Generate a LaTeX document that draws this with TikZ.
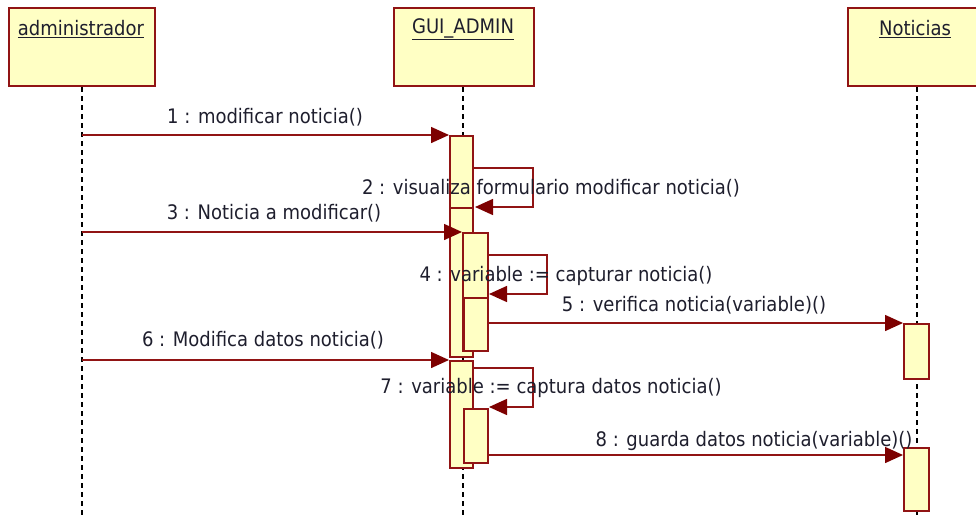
\documentclass[tikz,border=0pt]{standalone}
\usepackage{fontspec}
\setmainfont{DejaVu Sans}[FakeStretch=0.9]
\usetikzlibrary{arrows.meta}
\definecolor{boxfill}{RGB}{255,255,196}
\definecolor{boxline}{RGB}{145,20,20}
\definecolor{arrowc}{RGB}{125,0,0}
\definecolor{txt}{RGB}{30,30,45}
\begin{document}
\begin{tikzpicture}[x=1pt,y=-1pt,
  head/.style={draw=boxline, fill=boxfill, line width=1.8pt, minimum height=78pt, inner sep=0pt, anchor=north west},
  act/.style={draw=boxline, fill=boxfill, line width=1.6pt, minimum width=23pt, inner sep=0pt, anchor=north west},
  life/.style={line width=1.3pt, dash pattern=on 5pt off 4pt},
  msg/.style={draw=boxline, line width=1.5pt, -{Triangle[length=18pt,width=16pt,color=arrowc]}},
  lbl/.style={font=\fontsize{20}{22}\selectfont, text=txt, inner sep=0pt},
  hlbl/.style={font=\fontsize{20}{22}\selectfont, text=txt, inner sep=0pt}]
\useasboundingbox (0,0) rectangle (976,517);
% headers
\node[head, minimum width=146pt] (adm) at (8,7) {};
\node[head, minimum width=140pt] (gui) at (393,7) {};
\node[head, minimum width=140pt] (not) at (847,7) {};
\node[hlbl] (admt) at (81,29) {\underline{administrador}};
\node[hlbl] (guit) at (463,29) {\underline{GUI\_ADMIN}};
\node[hlbl] (nott) at (915,29) {\underline{Noticias}};
% lifelines
\coordinate (admb) at (82,517);
\coordinate (guib) at (463,517);
\coordinate (notb) at (917,517);
\coordinate (admtop) at (82,87);
\coordinate (guitop) at (463,87);
\coordinate (nottop) at (917,87);
\draw[life] (admtop) -- (admb);
\draw[life] (guitop) -- (guib);
\draw[life] (nottop) -- (notb);
% activations
\node[act, minimum height=72pt] (g1) at (449,135) {};
\node[act, minimum height=149pt] (g2) at (449,207) {};
\node[act, minimum width=25pt, minimum height=118pt] (g3) at (462,232) {};
\node[act, minimum width=24pt, minimum height=53pt] (g4) at (463,297) {};
\node[act, minimum height=107pt] (g5) at (449,360) {};
\node[act, minimum width=24pt, minimum height=54pt] (g6) at (463,408) {};
\node[act, minimum width=25pt, minimum height=55pt] (n1) at (903,323) {};
\node[act, minimum width=25pt, minimum height=63pt] (n2) at (903,447) {};
% message 1
\coordinate (a1) at (82,135);
\draw[msg] (a1) -- (g1.north west);
% message 2 (self)
\coordinate (s2a) at (472,168);
\coordinate (s2b) at (533,168);
\coordinate (s2c) at (533,207);
\coordinate (s2d) at (475,207);
\draw[msg] (s2a) -- (s2b) -- (s2c) -- (s2d);
% message 3
\coordinate (a3) at (82,232);
\draw[msg] (a3) -- (g3.north west);
% message 4 (self)
\coordinate (s4a) at (487,255);
\coordinate (s4b) at (547,255);
\coordinate (s4c) at (547,294);
\coordinate (s4d) at (489,294);
\draw[msg] (s4a) -- (s4b) -- (s4c) -- (s4d);
% message 5
\coordinate (s5a) at (487,323);
\draw[msg] (s5a) -- (n1.north west);
% message 6
\coordinate (a6) at (82,360);
\draw[msg] (a6) -- (g5.north west);
% message 7 (self)
\coordinate (s7a) at (472,368);
\coordinate (s7b) at (533,368);
\coordinate (s7c) at (533,407);
\coordinate (s7d) at (489,407);
\draw[msg] (s7a) -- (s7b) -- (s7c) -- (s7d);
% message 8
\coordinate (s8a) at (487,455);
\coordinate (s8b) at (903,455);
\draw[msg] (s8a) -- (s8b);
% labels
\node[lbl] (l1) at (265,117) {1 : modificar noticia()};
\node[lbl] (l2) at (551,188) {2 : visualiza formulario modificar noticia()};
\node[lbl] (l3) at (274,213) {3 : Noticia a modificar()};
\node[lbl] (l4) at (566,276) {4 : variable := capturar noticia()};
\node[lbl] (l5) at (694,305) {5 : verifica noticia(variable)()};
\node[lbl] (l6) at (263,340) {6 : Modifica datos noticia()};
\node[lbl] (l7) at (551,388) {7 : variable := captura datos noticia()};
\node[lbl] (l8) at (754,441) {8 : guarda datos noticia(variable)()};
\end{tikzpicture}
\end{document}
